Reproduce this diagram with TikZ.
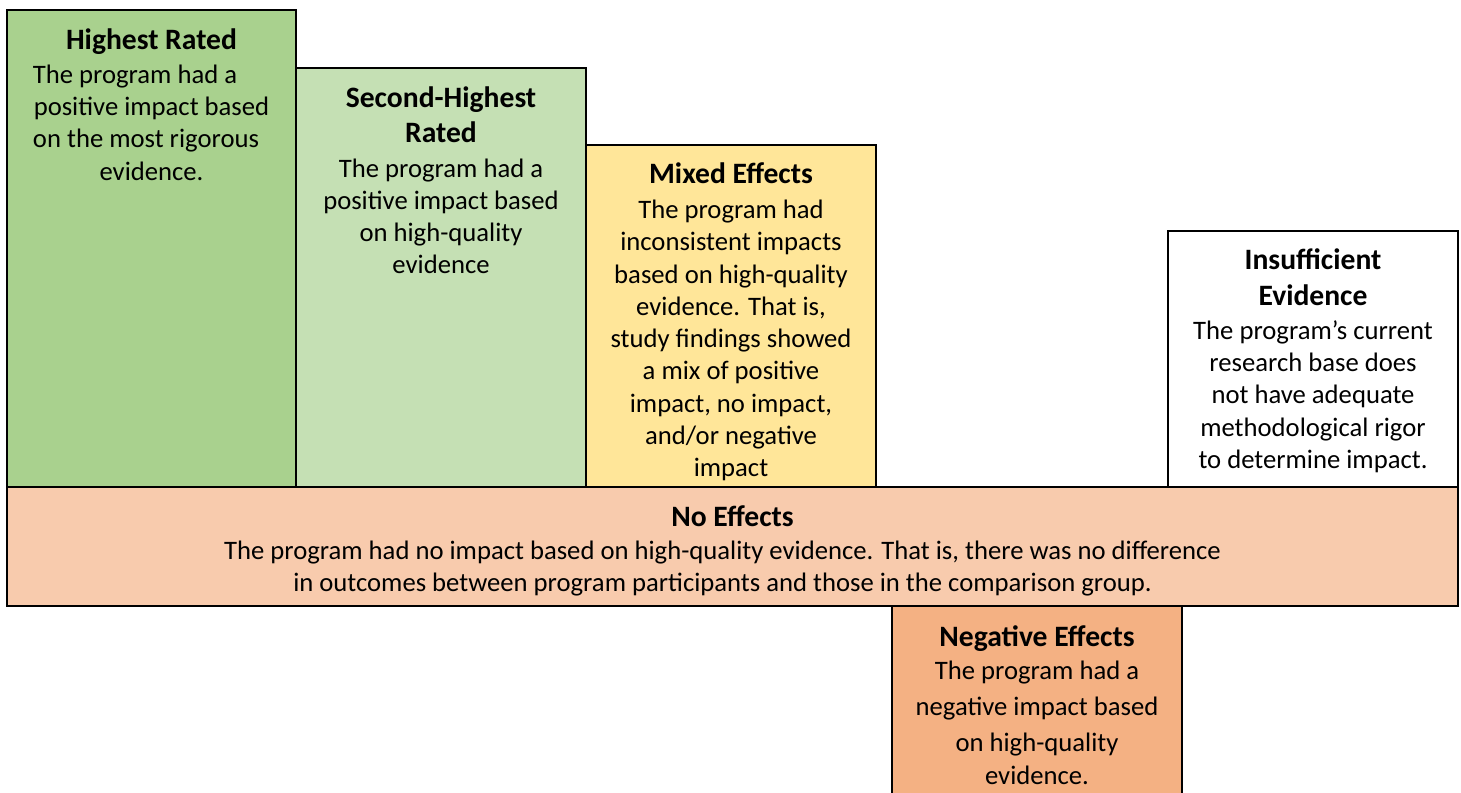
\documentclass[tikz,border=0pt]{standalone}
\usepackage{fontspec}
\setmainfont{Carlito}
\usetikzlibrary{fit,calc}
\definecolor{hrgreen}{HTML}{A9D18E}
\definecolor{shgreen}{HTML}{C5E0B4}
\definecolor{mixyellow}{HTML}{FFE699}
\definecolor{nopeach}{HTML}{F8CBAD}
\definecolor{negorange}{HTML}{F4B183}
\newcommand{\ttl}[1]{{\fontsize{22.2}{25.5}\selectfont\bfseries #1}}
\begin{document}
\begin{tikzpicture}[x=0.75pt,y=-0.75pt,
  box/.style={draw=black,line width=1.3pt,inner sep=0pt,outer sep=0pt},
  txt/.style={anchor=north,align=center,inner sep=0pt,font=\fontsize{20}{24.2}\selectfont},
]
\useasboundingbox (0,0) rectangle (1461,793);
\clip (0,0) rectangle (1461,793);
% boxes
\node[box,fill=hrgreen,fit={(7,10) (296,487)}] (hr) {};
\node[box,fill=shgreen,fit={(296,68) (586,487)}] (sh) {};
\node[box,fill=mixyellow,fit={(586,145) (876,487)}] (mx) {};
\node[box,fill=white,fit={(1168,231) (1458,487)}] (ie) {};
\node[box,fill=nopeach,fit={(7,487) (1458,606)}] (ne) {};
\node[box,fill=negorange,fit={(892,606) (1182,810)}] (neg) {};
% texts
\node[txt] (hrt) at ($(hr.north)+(0,18)$) {\ttl{Highest Rated}\\[1.5pt]
  The program had a\rule{24.75pt}{0pt}\\ positive impact based\\ on the most rigorous\rule{8.25pt}{0pt}\\ evidence.};
\node[txt] (sht) at ($(sh.north)+(0,18)$) {\ttl{Second-Highest}\\[2.2pt] \ttl{Rated}\\[2pt]
  The program had a\\ positive impact based\\ on high-quality\\ evidence};
\node[txt] (mxt) at ($(mx.north)+(0,17.5)$) {\ttl{Mixed Effects}\\[2pt]
  The program had\\ inconsistent impacts\\ based on high-quality\\ evidence. That is,\\ study findings showed\\ a mix of positive\\ impact, no impact,\\ and/or negative\\ impact};
\node[txt] (iet) at ($(ie.north)+(0,17.5)$) {\ttl{Insufficient}\\[3pt] \ttl{Evidence}\\[1pt]
  The program’s current\\ research base does\\ not have adequate\\ methodological rigor\\ to determine impact.};
\node[txt] (net) at ($(ne.north)+(0,18)$) {\ttl{No Effects}\\[1pt]
  The program had no impact based on high-quality evidence. That is, there was no difference\rule{15pt}{0pt}\\ in outcomes between program participants and those in the comparison group.\rule{15pt}{0pt}};
\node[txt] (negt) at ($(neg.north)+(0,19)$) {\ttl{Negative Effects}\\[0.5pt]
  The program had a\\[3pt] negative impact based\\[3pt] on high-quality\\[0.3pt] evidence.};
\end{tikzpicture}
\end{document}
